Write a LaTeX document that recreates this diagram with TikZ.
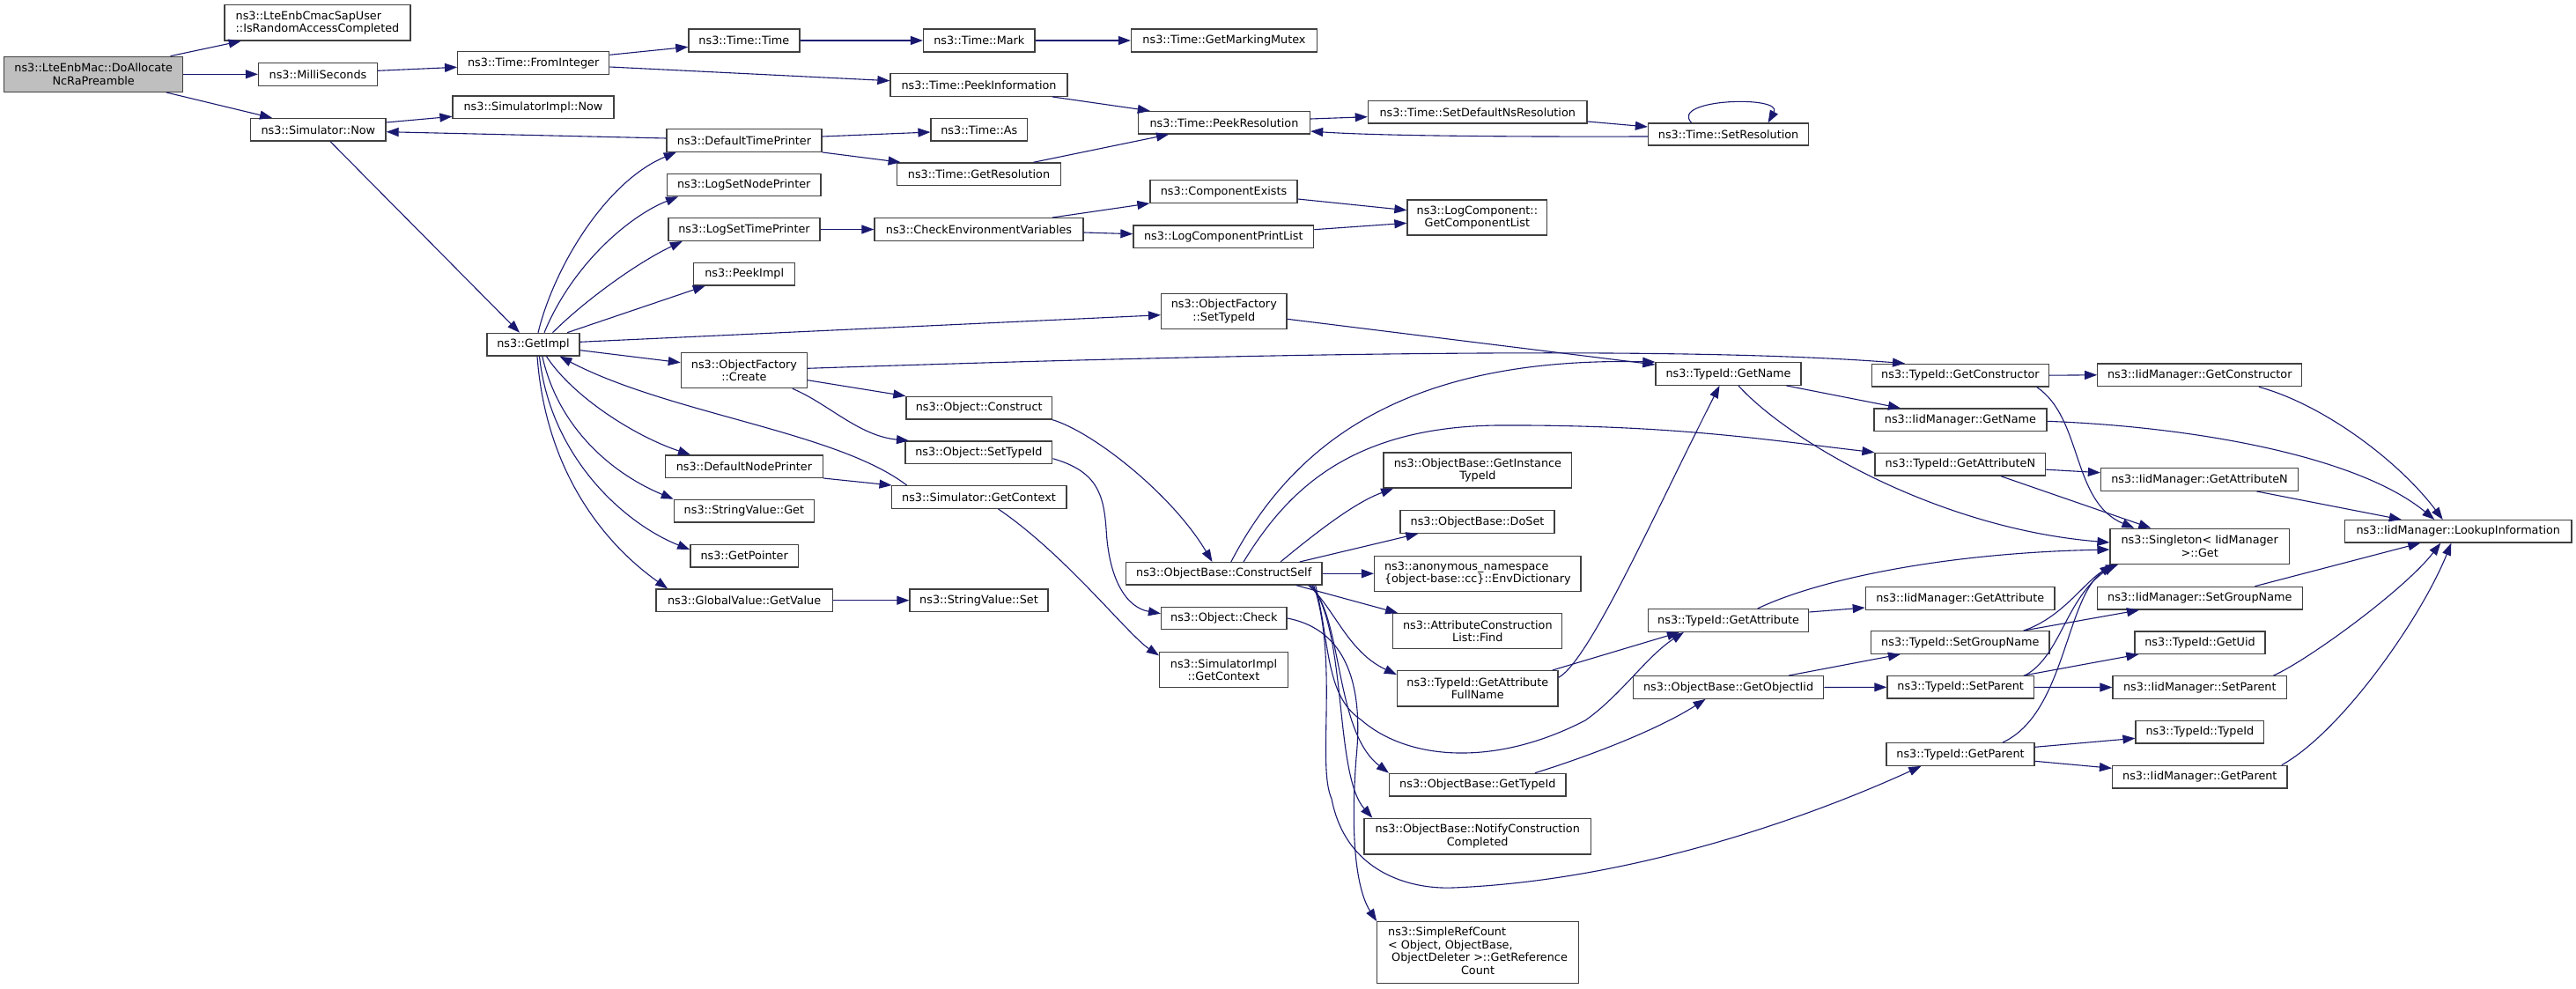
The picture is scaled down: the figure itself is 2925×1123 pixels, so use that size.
\documentclass[tikz,border=0pt]{standalone}
\usepackage{fontspec}
\setmainfont{DejaVu Sans}
\usetikzlibrary{arrows.meta}
\definecolor{edgeblue}{HTML}{191970}
\begin{document}
\begin{tikzpicture}[x=1pt,y=-1pt,
  fn/.style={draw=black!75, line width=1.3pt, fill=white, inner sep=1pt,
    font=\fontsize{12.8}{14.5}\selectfont, align=center},
  fnroot/.style={fn, fill=black!25},
  sz/.style 2 args={minimum width=#1pt, minimum height=#2pt},
  edge/.style={draw=edgeblue, line width=1.1pt, -{Triangle[length=14pt,width=10pt]}}
]
\useasboundingbox[fill=white] (0,0) rectangle (2925,1123);

% ---------------- nodes ----------------
\node[fnroot, sz={203}{40}] (main) at (106.2,84.3) {ns3::LteEnbMac::DoAllocate\\NcRaPreamble};
\node[fn, align=left, sz={211}{40.3}] (israc) at (360.5,25.8) {ns3::LteEnbCmacSapUser\\::IsRandomAccessCompleted};
\node[fn, sz={135}{26}] (milli) at (361,84.3) {ns3::MilliSeconds};
\node[fn, sz={153.4}{25.5}] (simnow) at (361.3,147.3) {ns3::Simulator::Now};
\node[fn, sz={172}{25.5}] (fromint) at (605.7,71.5) {ns3::Time::FromInteger};
\node[fn, sz={183}{25.7}] (simimplnow) at (605.5,121.8) {ns3::SimulatorImpl::Now};
\node[fn, sz={105}{25.7}] (getimpl) at (605.5,391.2) {ns3::GetImpl};

\node[fn, sz={126}{26}] (timetime) at (844.9,46) {ns3::Time::Time};
\node[fn, sz={176}{25.6}] (deftp) at (845,159.5) {ns3::DefaultTimePrinter};
\node[fn, sz={174.6}{25.4}] (lognp) at (844.7,210) {ns3::LogSetNodePrinter};
\node[fn, sz={172}{25.6}] (logtp) at (845,260.5) {ns3::LogSetTimePrinter};
\node[fn, sz={115}{25.3}] (peekimpl) at (845.2,311.3) {ns3::PeekImpl};
\node[fn, sz={143}{40}] (ofcreate) at (844.9,420.7) {ns3::ObjectFactory\\::Create};
\node[fn, sz={178.8}{25.3}] (defnp) at (844.9,529.7) {ns3::DefaultNodePrinter};
\node[fn, sz={159}{25.7}] (svget) at (844.9,580.2) {ns3::StringValue::Get};
\node[fn, sz={122.7}{25.7}] (getptr) at (845.2,631.2) {ns3::GetPointer};
\node[fn, sz={200.2}{25.3}] (gvget) at (845.1,681.7) {ns3::GlobalValue::GetValue};

\node[fn, sz={126.5}{26}] (mark) at (1111.8,46) {ns3::Time::Mark};
\node[fn, sz={201}{25.6}] (peekinfo) at (1111.5,96.5) {ns3::Time::PeekInformation};
\node[fn, sz={109.5}{25.5}] (timeas) at (1111.8,147.3) {ns3::Time::As};
\node[fn, sz={185.5}{25.7}] (getres) at (1111.5,197.8) {ns3::Time::GetResolution};
\node[fn, sz={237}{25.6}] (checkenv) at (1111.5,260.5) {ns3::CheckEnvironmentVariables};
\node[fn, sz={165.4}{25.7}] (objconstruct) at (1111.7,463.2) {ns3::Object::Construct};
\node[fn, sz={166.8}{25.3}] (objsettid) at (1111.4,513.7) {ns3::Object::SetTypeId};
\node[fn, sz={198.7}{25.6}] (getctx) at (1111.5,564.5) {ns3::Simulator::GetContext};
\node[fn, sz={157}{25.3}] (svset) at (1111.5,681.7) {ns3::StringValue::Set};

\node[fn, sz={211}{26}] (mutex) at (1390,46) {ns3::Time::GetMarkingMutex};
\node[fn, sz={195}{25.5}] (peekres) at (1390,139.3) {ns3::Time::PeekResolution};
\node[fn, sz={167}{25.5}] (compex) at (1389.5,217.5) {ns3::ComponentExists};
\node[fn, sz={204.6}{25.3}] (logcpl) at (1389.3,268.7) {ns3::LogComponentPrintList};
\node[fn, sz={142.5}{40.4}] (ofsettid) at (1389.8,353.5) {ns3::ObjectFactory\\::SetTypeId};
\node[fn, sz={222.6}{25.3}] (cself) at (1389.7,651.3) {ns3::ObjectBase::ConstructSelf};
\node[fn, sz={142.5}{25.4}] (objcheck) at (1389.8,702) {ns3::Object::Check};
\node[fn, sz={145.8}{40}] (siget) at (1389.5,760.7) {ns3::SimulatorImpl\\::GetContext};

\node[fn, sz={248.6}{25.3}] (setdefns) at (1677.7,127.3) {ns3::Time::SetDefaultNsResolution};
\node[fn, sz={158.8}{40}] (getcl) at (1677.4,247) {ns3::LogComponent::\\GetComponentList};
\node[fn, sz={213.7}{40}] (ginst) at (1677.9,534) {ns3::ObjectBase::GetInstance\\TypeId};
\node[fn, sz={175}{25.6}] (doset) at (1677.5,592.5) {ns3::ObjectBase::DoSet};
\node[fn, align=left, sz={234.5}{40}] (envdict) at (1677.8,651.3) {ns3::anonymous\_namespace\\\{object-base::cc\}::EnvDictionary};
\node[fn, sz={192}{40}] (aclfind) at (1677.8,716.7) {ns3::AttributeConstruction\\List::Find};
\node[fn, sz={182.5}{40.3}] (attrfull) at (1677.8,781.8) {ns3::TypeId::GetAttribute\\FullName};
\node[fn, sz={200.5}{25.7}] (obgettid) at (1677.8,891.2) {ns3::ObjectBase::GetTypeId};
\node[fn, sz={257.4}{40.7}] (notify) at (1677.7,949.7) {ns3::ObjectBase::NotifyConstruction\\Completed};
\node[fn, sz={228.4}{70}] (refcount) at (1678,1081.7) {\begin{tabular}{@{}l@{}}ns3::SimpleRefCount\\< Object, ObjectBase,\\\ ObjectDeleter >::GetReference\\\multicolumn{1}{@{}c@{}}{Count}\end{tabular}};

\node[fn, sz={182.2}{25}] (setres) at (1962.6,152.5) {ns3::Time::SetResolution};
\node[fn, sz={165}{25.6}] (getname) at (1962.5,424.5) {ns3::TypeId::GetName};
\node[fn, sz={182.2}{25.6}] (getattr) at (1962.6,704.5) {ns3::TypeId::GetAttribute};
\node[fn, sz={216.2}{25.6}] (getoiid) at (1962.6,780.5) {ns3::ObjectBase::GetObjectIid};

\node[fn, sz={201}{25.7}] (getctor) at (2225.9,426.2) {ns3::TypeId::GetConstructor};
\node[fn, sz={196}{25.3}] (iidgetname) at (2225.9,476.7) {ns3::IidManager::GetName};
\node[fn, sz={193.7}{25.7}] (getattrn) at (2225.9,527.2) {ns3::TypeId::GetAttributeN};
\node[fn, sz={214.7}{25.6}] (iidgetattr) at (2225.7,679.5) {ns3::IidManager::GetAttribute};
\node[fn, sz={202.5}{25.6}] (tsetgn) at (2225.8,729.5) {ns3::TypeId::SetGroupName};
\node[fn, sz={166.6}{25.3}] (tsetpar) at (2226.2,780.3) {ns3::TypeId::SetParent};
\node[fn, sz={168}{25.6}] (tgetpar) at (2226,856.5) {ns3::TypeId::GetParent};

\node[fn, sz={232}{25.7}] (iidgetctor) at (2497.8,425.8) {ns3::IidManager::GetConstructor};
\node[fn, sz={224}{25.6}] (iidgetattrn) at (2497.5,544.5) {ns3::IidManager::GetAttributeN};
\node[fn, sz={203.3}{40}] (single) at (2497.7,620.3) {ns3::Singleton< IidManager\\>::Get};
\node[fn, sz={233}{25.7}] (iidsetgn) at (2497.8,679.2) {ns3::IidManager::SetGroupName};
\node[fn, sz={148}{25.3}] (getuid) at (2498,729.7) {ns3::TypeId::GetUid};
\node[fn, sz={197.5}{25.6}] (iidsetpar) at (2497.8,780.5) {ns3::IidManager::SetParent};
\node[fn, sz={145.7}{25.3}] (tidtid) at (2497.9,831.3) {ns3::TypeId::TypeId};
\node[fn, sz={198.4}{25.7}] (iidgetpar) at (2497.8,882.2) {ns3::IidManager::GetParent};

\node[fn, sz={257.4}{25.3}] (lookup) at (2791.3,603.3) {ns3::IidManager::LookupInformation};

% ---------------- edges ----------------
\draw[edge] ([xshift=87.3pt]main.north) -- ([xshift=-86.8pt]israc.south);
\draw[edge] (main.east) -- (milli.west);
\draw[edge] ([xshift=82.6pt]main.south) -- ([xshift=-52.3pt]simnow.north);
\draw[edge] ([yshift=4pt]milli.east) -- ([yshift=-4.8pt]fromint.west);
\draw[edge] ([yshift=8.3pt]simnow.east) -- ([yshift=-10.5pt]simimplnow.west);
\draw[edge] ([yshift=2.5pt]deftp.west) -- ([yshift=-2.4pt]simnow.east);
\draw[edge] ([xshift=13.7pt]simnow.south) -- ([xshift=-15.5pt]getimpl.north);
\draw[edge] ([yshift=9.2pt]fromint.east) -- ([yshift=-7.3pt]timetime.west);
\draw[edge] ([yshift=-4.5pt]fromint.east) -- ([yshift=4.8pt]peekinfo.west);
\draw[edge] (timetime.east) -- (mark.west);
\draw[edge] (mark.east) -- (mutex.west);
\draw[edge] ([xshift=83.5pt]peekinfo.south) -- ([xshift=-84.2pt]peekres.north);
\draw[edge] ([yshift=4.5pt]deftp.east) -- ([yshift=-2.7pt]timeas.west);
\draw[edge] (deftp.south east) -- ([xshift=-88.9pt]getres.north);
\draw[edge] ([xshift=62pt]getres.north) -- ([xshift=-63pt]peekres.south);

% GetImpl fan
\draw[edge] ([xshift=5.5pt]getimpl.north) .. controls (630,300) and (690,205) .. ([xshift=-77.2pt]deftp.south);
\draw[edge] ([xshift=12.5pt]getimpl.north) .. controls (650,300) and (715,245) .. ([xshift=-74.7pt]lognp.south);
\draw[edge] ([xshift=22pt]getimpl.north) .. controls (660,345) and (720,300) .. ([xshift=-70.2pt]logtp.south);
\draw[edge] ([xshift=38.5pt]getimpl.north) -- ([xshift=-44.4pt]peekimpl.south);
\draw[edge] ([yshift=2.9pt]getimpl.east) -- ([yshift=-4.2pt]ofsettid.west);
\draw[edge] ([yshift=-6.5pt]getimpl.east) -- ([yshift=9pt]ofcreate.west);
\draw[edge] ([xshift=15pt]getimpl.south) .. controls (650,450) and (720,495) .. ([xshift=-60.9pt]defnp.north);
\draw[edge] ([xshift=10.3pt]getimpl.south) .. controls (635,490) and (700,540) .. (svget.north west);
\draw[edge] ([xshift=7pt]getimpl.south) .. controls (625,520) and (710,595) .. ([yshift=7.2pt]getptr.west);
\draw[edge] ([xshift=4.5pt]getimpl.south) .. controls (620,540) and (690,620) .. ([xshift=-87pt]gvget.north);
\draw[edge] ([xshift=-81.8pt]getctx.north) .. controls (950,490) and (760,470) .. ([xshift=30pt]getimpl.south);

% ObjectFactory::Create
\draw[edge] ([yshift=2.4pt]ofcreate.east) .. controls (1400,402) and (1900,392) .. ([xshift=-62.9pt]getctor.north);
\draw[edge] ([yshift=-11pt]ofcreate.east) -- (objconstruct.north west);
\draw[edge] ([xshift=55pt]ofcreate.south) .. controls (940,458) and (975,495) .. ([xshift=-79.4pt]objsettid.north);
\draw[edge] (objconstruct.south east) .. controls (1240,490) and (1330,560) .. ([xshift=-13.2pt]cself.north);
\draw[edge] ([yshift=-7pt]objsettid.east) .. controls (1245,535) and (1253,560) .. (1256,600) .. controls (1259,660) and (1280,690) .. ([yshift=5.3pt]objcheck.west);
\draw[edge] ([xshift=22pt]getctx.south) .. controls (1210,630) and (1280,720) .. ([yshift=-4.3pt]siget.north west);
\draw[edge] (defnp.south east) -- ([xshift=1pt]getctx.north west);
\draw[edge] (gvget.east) -- (svset.west);

% Log / Time
\draw[edge] (logtp.east) -- (checkenv.west);
\draw[edge] ([xshift=83.3pt]checkenv.north) -- (compex.south west);
\draw[edge] ([yshift=-3.5pt]checkenv.east) -- ([yshift=3pt]logcpl.west);
\draw[edge] ([yshift=-8.5pt]compex.east) -- ([yshift=8.3pt]getcl.west);
\draw[edge] ([yshift=8pt]logcpl.east) -- ([yshift=-6.3pt]getcl.west);
\draw[edge] ([yshift=4.3pt]peekres.east) -- ([yshift=-5.4pt]setdefns.west);
\draw[edge] ([yshift=-10.7pt]setdefns.east) -- ([yshift=8.5pt]setres.west);
\draw[edge] ([yshift=-2.5pt]setres.west) .. controls (1700,155.5) and (1560,154) .. ([yshift=-9.7pt]peekres.east);
\draw[edge] ([xshift=-42pt]setres.north) .. controls (1895,112) and (2025,108) .. ([xshift=45pt]setres.north);

% ObjectFactory::SetTypeId
\draw[edge] ([yshift=-8.8pt]ofsettid.east) -- ([yshift=-3pt]getname.north west);

% ConstructSelf fan
\draw[edge] ([xshift=8.1pt]cself.north) .. controls (1470,500) and (1600,405) .. (getname.north west);
\draw[edge] ([xshift=22.3pt]cself.north) .. controls (1460,560) and (1530,485) .. (1700,483) .. controls (1900,482) and (2010,500) .. (getattrn.north west);
\draw[edge] ([xshift=64.3pt]cself.north) .. controls (1500,600) and (1540,570) .. ([xshift=11.7pt]ginst.south west);
\draw[edge] ([xshift=-26pt]cself.north east) -- ([xshift=21pt]doset.south west);
\draw[edge] (cself.east) -- (envdict.west);
\draw[edge] ([xshift=-30pt]cself.south east) -- ([xshift=6pt]aclfind.north west);
\draw[edge] ([xshift=-16pt]cself.south east) .. controls (1515,690) and (1530,740) .. ([yshift=-5pt]attrfull.north west);
\draw[edge] ([xshift=-14pt]cself.south east) .. controls (1525,700) and (1515,830) .. (obgettid.north west);
\draw[edge] ([xshift=-12pt]cself.south east) .. controls (1530,720) and (1515,880) .. ([xshift=10pt]notify.north west);
\draw[edge] ([xshift=-10pt]cself.south east) .. controls (1520,750) and (1495,870) .. (1512,907) .. controls (1528,990) and (1600,1010) .. (1650,1008) .. controls (1850,1000) and (2050,930) .. ([xshift=40pt]tgetpar.south west);
\draw[edge] ([xshift=-8pt]cself.south east) .. controls (1510,730) and (1505,790) .. (1545,817) .. controls (1600,865) and (1700,870) .. (1800,818) .. controls (1840,790) and (1870,745) .. ([xshift=41pt]getattr.south west);
\draw[edge] (objcheck.east) .. controls (1530,715) and (1548,780) .. (1540,860) .. controls (1533,950) and (1540,1010) .. (refcount.north west);

% TypeId layer
\draw[edge] ([xshift=-7pt]attrfull.north east) -- ([xshift=36pt]getattr.south west);
\draw[edge] ([yshift=12.5pt]attrfull.east) .. controls (1805,750) and (1880,580) .. ([xshift=-10pt]getname.south);
\draw[edge] ([xshift=65pt]obgettid.north) .. controls (1800,860) and (1880,830) .. ([xshift=-26pt]getoiid.south);
\draw[edge] ([xshift=68.4pt]getoiid.north) -- ([xshift=34pt]tsetgn.south west);
\draw[edge] (getoiid.east) -- (tsetpar.west);
\draw[edge] ([yshift=9.5pt]getattr.east) -- ([yshift=-10.5pt]iidgetattr.west);
\draw[edge] ([xshift=33pt]getattr.north) .. controls (2060,660) and (2200,628) .. ([yshift=-3.7pt]single.west);
\draw[edge] ([xshift=66pt]getname.south) -- ([xshift=30.7pt]iidgetname.north west);
\draw[edge] ([xshift=11.5pt]getname.south) .. controls (2030,500) and (2200,600) .. ([yshift=4.3pt]single.west);

\draw[edge] (getctor.east) -- (iidgetctor.west);
\draw[edge] ([xshift=87pt]getctor.south) .. controls (2365,475) and (2352,570) .. ([xshift=28pt]single.north west);
\draw[edge] ([yshift=-6pt]getattrn.east) -- ([yshift=7.8pt]iidgetattrn.west);
\draw[edge] ([xshift=46pt]getattrn.south) -- ([xshift=47pt]single.north west);
\draw[edge] ([xshift=72pt]tsetgn.north) -- ([xshift=-68.8pt]iidsetgn.south);
\draw[edge] ([xshift=72pt]tsetgn.north) .. controls (2345,700) and (2370,655) .. ([xshift=9.7pt]single.south west);
\draw[edge] (tsetpar.east) -- (iidsetpar.west);
\draw[edge] ([xshift=71.6pt]tsetpar.north) -- ([xshift=5pt]getuid.south west);
\draw[edge] ([xshift=73pt]tsetpar.north) .. controls (2340,745) and (2345,680) .. ([xshift=6pt]single.south west);
\draw[edge] ([xshift=48pt]tgetpar.north) .. controls (2345,810) and (2345,680) .. ([xshift=3pt]single.south west);
\draw[edge] ([yshift=8.2pt]tgetpar.east) -- ([yshift=-7pt]tidtid.west);
\draw[edge] ([yshift=-7.8pt]tgetpar.east) -- ([yshift=9.9pt]iidgetpar.west);

% IidManager -> LookupInformation
\draw[edge] ([yshift=-1.6pt]iidgetname.east) .. controls (2500,485) and (2680,520) .. ([xshift=-27pt]lookup.north);
\draw[edge] ([xshift=67pt]iidgetctor.south) .. controls (2640,460) and (2725,525) .. ([xshift=-17.6pt]lookup.north);
\draw[edge] ([xshift=65pt]iidgetattrn.south) -- ([xshift=-64.5pt]lookup.north);
\draw[edge] ([xshift=62.6pt]iidsetgn.north) -- ([xshift=-43pt]lookup.south);
\draw[edge] ([xshift=83.7pt]iidsetpar.north) .. controls (2620,750) and (2730,670) .. ([xshift=-20pt]lookup.south);
\draw[edge] ([xshift=93pt]iidgetpar.north) .. controls (2660,830) and (2750,700) .. ([xshift=-8pt]lookup.south);
\end{tikzpicture}
\end{document}
